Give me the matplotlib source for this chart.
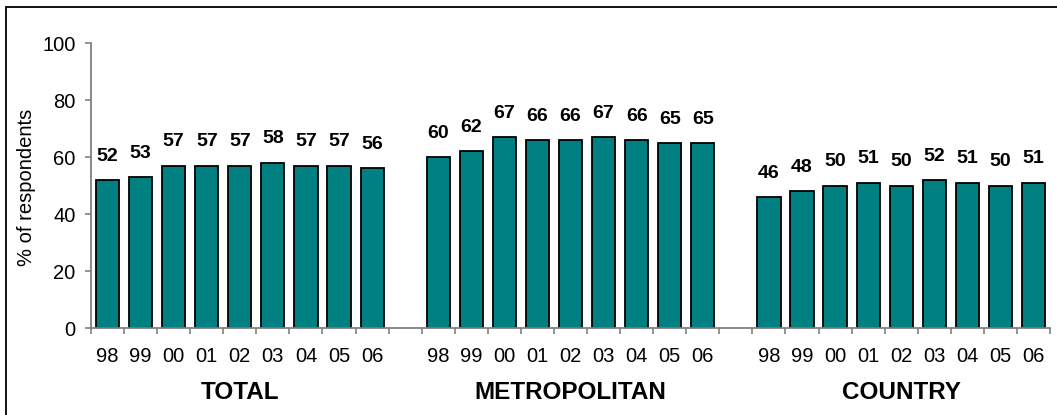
import numpy as np
import matplotlib.pyplot as plt
from matplotlib.patches import Rectangle
from matplotlib.transforms import blended_transform_factory

plt.rcParams['font.family'] = ['Liberation Sans', 'DejaVu Sans']

years = ["98", "99", "00", "01", "02", "03", "04", "05", "06"]
groups = ["TOTAL", "METROPOLITAN", "COUNTRY"]
total = [52, 53, 57, 57, 57, 58, 57, 57, 56]
metropolitan = [60, 62, 67, 66, 66, 67, 66, 65, 65]
country = [46, 48, 50, 51, 50, 52, 51, 50, 51]

series = [total, metropolitan, country]
n = len(years)
gap = 1  # empty slot between groups

fig = plt.figure(figsize=(10.57, 4.15), dpi=100)
ax = fig.add_axes([0.0861, 0.2096, 0.9073, 0.6867])

# outer frame (only top/left edges fall inside the canvas)
fig.patches.append(Rectangle((6 / 1057, -0.1), 1.2, 1 - 7 / 415 + 0.1,
                             transform=fig.transFigure, fill=False,
                             edgecolor="black", lw=1.3))

lab_tr = blended_transform_factory(ax.transData, ax.transAxes)
xpos, xlab = [], []
for g, vals in enumerate(series):
    x = np.arange(n) + g * (n + gap)
    bars = ax.bar(x, vals, width=0.7, color="#008080", edgecolor="black", lw=1.3)
    for b, v in zip(bars, vals):
        ax.annotate(f"{v}", (b.get_x() + b.get_width() / 2, v),
                    xytext=(0, 11), textcoords="offset points",
                    ha="center", va="bottom", fontsize=14, fontweight="bold")
    xpos.extend(x)
    xlab.extend(years)
    ax.text(x.mean(), -0.2246, groups[g], transform=lab_tr,
            ha="center", va="center", fontsize=17.5, fontweight="bold")

total_slots = 3 * n + 2 * gap
ax.set_xlim(-0.5, total_slots - 0.5)
ax.set_ylim(0, 100)
ax.set_yticks(range(0, 101, 20))

ax.set_xticks(xpos)
ax.set_xticklabels(xlab)
ax.set_xticks(np.arange(-0.5, total_slots, 1), minor=True)
ax.tick_params(axis="x", which="major", length=0, pad=13.5, labelsize=14.5)
ax.tick_params(axis="x", which="minor", length=4, color="#808080", width=1.2)
ax.tick_params(axis="y", length=4, color="#808080", width=1.2, pad=7, labelsize=14.5)

for s in ["top", "right"]:
    ax.spines[s].set_visible(False)
for s in ["left", "bottom"]:
    ax.spines[s].set_color("#808080")
    ax.spines[s].set_linewidth(1.3)

fig.text(27 / 1057, 1 - 187 / 415, "% of respondents", rotation=90,
         ha="center", va="center", fontsize=14.5)

fig.savefig("out.png", dpi=100)
